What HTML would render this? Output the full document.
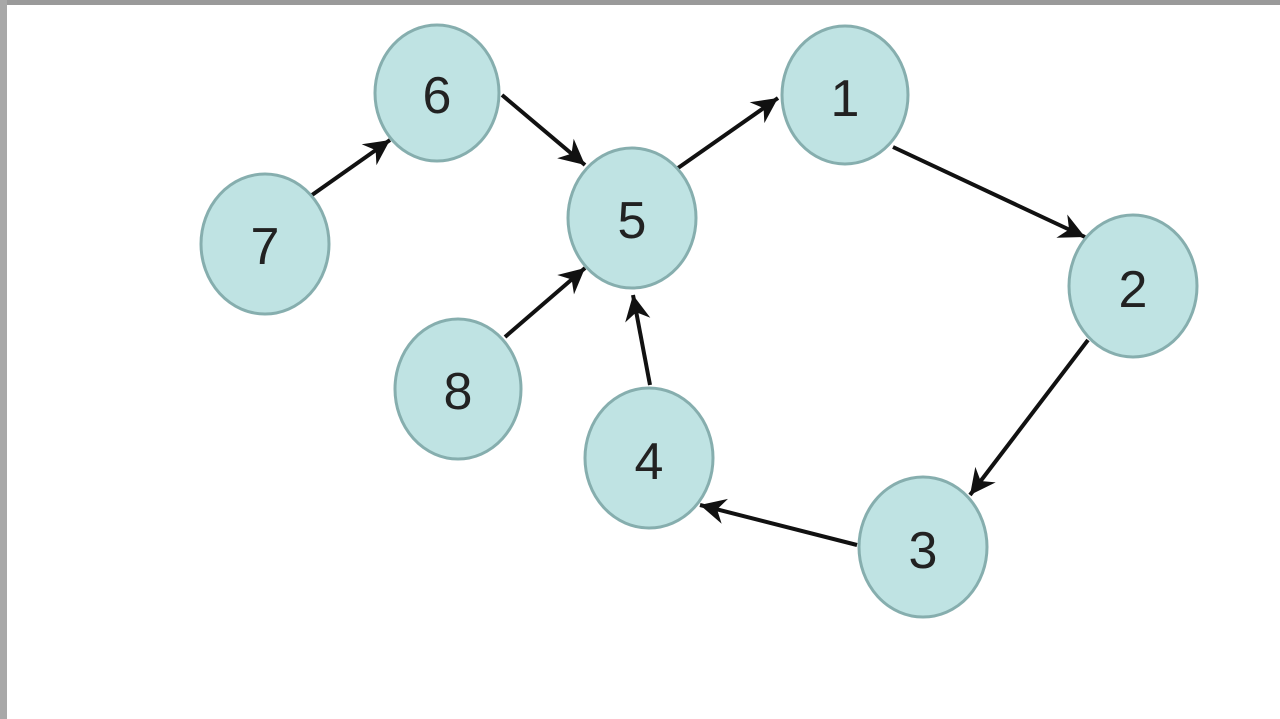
<!DOCTYPE html>
<html><head><style>
html,body{margin:0;padding:0;background:#fff;width:1280px;height:719px;overflow:hidden}
svg{display:block}
</style></head><body>
<svg width="1280" height="719" viewBox="0 0 1280 719" xmlns="http://www.w3.org/2000/svg">
<defs>
<marker id="m" viewBox="0 0 20 20" refX="18" refY="10" markerWidth="32" markerHeight="32" orient="auto" markerUnits="userSpaceOnUse">
<path d="M2,2 L18,10 L2,18 L7,10 Z" fill="#111"/>
</marker>
</defs>
<rect x="0" y="0" width="1280" height="5" fill="#9a9a9a"/>
<rect x="0" y="0" width="7" height="719" fill="#a8a8a8"/>
<g stroke="#111" stroke-width="4" fill="none" marker-end="url(#m)">
<line x1="312" y1="195" x2="390" y2="140"/>
<line x1="502" y1="95" x2="585" y2="165"/>
<line x1="678" y1="168" x2="778" y2="98"/>
<line x1="893" y1="147" x2="1085" y2="237"/>
<line x1="1088" y1="340" x2="970" y2="495"/>
<line x1="857" y1="545" x2="700" y2="505"/>
<line x1="650" y1="385" x2="633" y2="295"/>
<line x1="505" y1="337" x2="585" y2="268"/>
</g>
<g fill="#bfe3e3" stroke="#86aeae" stroke-width="3">
<ellipse cx="437" cy="93" rx="62" ry="68"/>
<ellipse cx="845" cy="95" rx="63" ry="69"/>
<ellipse cx="265" cy="244" rx="64" ry="70"/>
<ellipse cx="632" cy="218" rx="64" ry="70"/>
<ellipse cx="1133" cy="286" rx="64" ry="71"/>
<ellipse cx="458" cy="389" rx="63" ry="70"/>
<ellipse cx="649" cy="458" rx="64" ry="70"/>
<ellipse cx="923" cy="547" rx="64" ry="70"/>
</g>
<g font-family="Liberation Sans, sans-serif" font-size="52" fill="#222" text-anchor="middle">
<text x="437" y="113">6</text>
<text x="845" y="116">1</text>
<text x="265" y="264">7</text>
<text x="632" y="238">5</text>
<text x="1133" y="307">2</text>
<text x="458" y="409">8</text>
<text x="649" y="479">4</text>
<text x="923" y="568">3</text>
</g>
</svg>
</body></html>
